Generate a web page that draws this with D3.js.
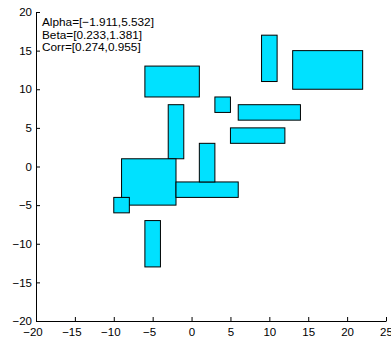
<!DOCTYPE html>
<html>
<head>
<meta charset="utf-8">
<script src="https://cdn.jsdelivr.net/npm/d3@7"></script>
<style>
body { margin: 0; background: #fff; }
text { font-family: "Liberation Sans", Arial, sans-serif; }
</style>
</head>
<body>
<svg id="chart"></svg>
<script>
// boxes, one entry per rectangle
var xLo = [-6, -3, -9, -10, -6, -2, 1, 5, 9, 13, 3, 6];
var xHi = [1, -1, -2, -8, -4, 6, 3, 12, 11, 22, 5, 14];
var yLo = [9, 1, -5, -6, -13, -4, -2, 3, 11, 10, 7, 6];
var yHi = [13, 8, 1, -4, -7, -2, 3, 5, 17, 15, 9, 8];

var xTicks = [-20, -15, -10, -5, 0, 5, 10, 15, 20, 25];
var yTicks = [-20, -15, -10, -5, 0, 5, 10, 15, 20];
var notes = ["Alpha=[\u22121.911,5.532]", "Beta=[0.233,1.381]", "Corr=[0.274,0.955]"];

width = 391;
height = 342;

svg = d3.select("#chart")
    .attr("width", width)
    .attr("height", height);

x = d3.scaleLinear().domain([-20, 25]).range([36, 386]);
y = d3.scaleLinear().domain([-20, 20]).range([321, 12]);

boxes = d3.range(xLo.length);

svg.append("g")
    .selectAll("rect")
    .data(boxes)
    .enter().append("rect")
        .attr("x", (i) => x(xLo[i]))
        .attr("y", (i) => y(yHi[i]))
        .attr("width", (i) => x(xHi[i]) - x(xLo[i]))
        .attr("height", (i) => y(yLo[i]) - y(yHi[i]))
        .attr("fill", "#00e1ff")
        .attr("stroke", "#000")
        .attr("stroke-width", 1);

xAxis = svg.append("g")
    .attr("transform", "translate(0," + y(-20) + ")")
    .call(d3.axisBottom(x).tickValues(xTicks).tickSize(-4).tickSizeOuter(0).tickPadding(7));

yAxis = svg.append("g")
    .attr("transform", "translate(" + x(-20) + ",0)")
    .call(d3.axisLeft(y).tickValues(yTicks).tickSize(-4).tickSizeOuter(0).tickPadding(4));

[xAxis, yAxis].forEach(function(a) {
    a.selectAll("text").attr("font-size", 11.5).attr("fill", "#000")
        .attr("font-family", "'Liberation Sans', Arial, sans-serif");
    a.selectAll("path, line").attr("stroke", "#000");
});

// minus sign hangs to the left of the centred digits
xAxis.selectAll(".tick text")
    .attr("dx", (d) => d < 0 ? -3.5 : 0);

svg.append("g")
    .selectAll("text")
    .data(notes)
    .enter().append("text")
        .attr("x", 42)
        .attr("y", (d, i) => 26 + i * 12.7)
        .attr("font-size", 11.8)
        .text((d) => d);
</script>
</body>
</html>
